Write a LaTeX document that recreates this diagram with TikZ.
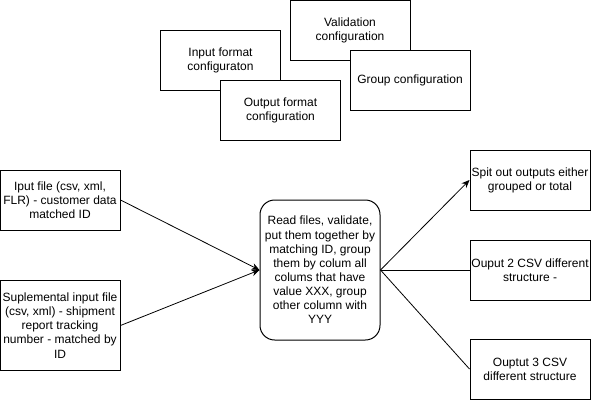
\documentclass[tikz,border=0pt]{standalone}
\usepackage{fontspec}
\setmainfont{Liberation Sans}
\usetikzlibrary{arrows.meta}
\begin{document}
\begin{tikzpicture}[x=0.75pt,y=-0.75pt,
  box/.style={draw,fill=white,line width=0.75pt,minimum width=90pt,minimum height=45pt,inner sep=1pt,align=center,font=\fontsize{9}{10.6}\selectfont},
  rbox/.style={box,rounded corners=11pt,minimum height=105pt},
  conn/.style={line width=0.6pt},
  arr/.style={conn,-{Stealth[length=6pt,width=5pt]}}]
\useasboundingbox (0,0) rectangle (591,401);
\node[box] (inp) at (220.5,60) {Input format\\configuraton};
\node[box] (outp) at (280.5,110) {Output format\\configuration};
\node[box] (val) at (350,30.5) {Validation\\configuration};
\node[box] (grp) at (410,80) {Group configuration};
\node[box] (in1) at (60,200) {Iput file (csv, xml,\\FLR) - customer data\\matched ID};
\node[box,minimum height=67.5pt] (in2) at (60,325.5) {Suplemental input file\\(csv, xml) - shipment\\report tracking\\number - matched by\\ID};
\node[rbox] (mid) at (320,270) {Read files, validate,\\put them together by\\matching ID, group\\them by colum all\\colums that have\\value XXX, group\\other column with\\YYY};
\node[box] (o1) at (530,180) {Spit out outputs either\\grouped or total};
\node[box] (o2) at (530,270) {Ouput 2 CSV different\\structure -};
\node[box] (o3) at (530,369) {Ouptut 3 CSV\\different structure};
\draw[arr] (in1.east) -- (mid.west);
\draw[arr] (in2.east) -- (mid.west);
\draw[arr] (mid.east) -- (o1.west);
\draw[conn] (mid.east) -- (o2.west);
\draw[conn] (mid.east) -- (o3.west);
\end{tikzpicture}
\end{document}
